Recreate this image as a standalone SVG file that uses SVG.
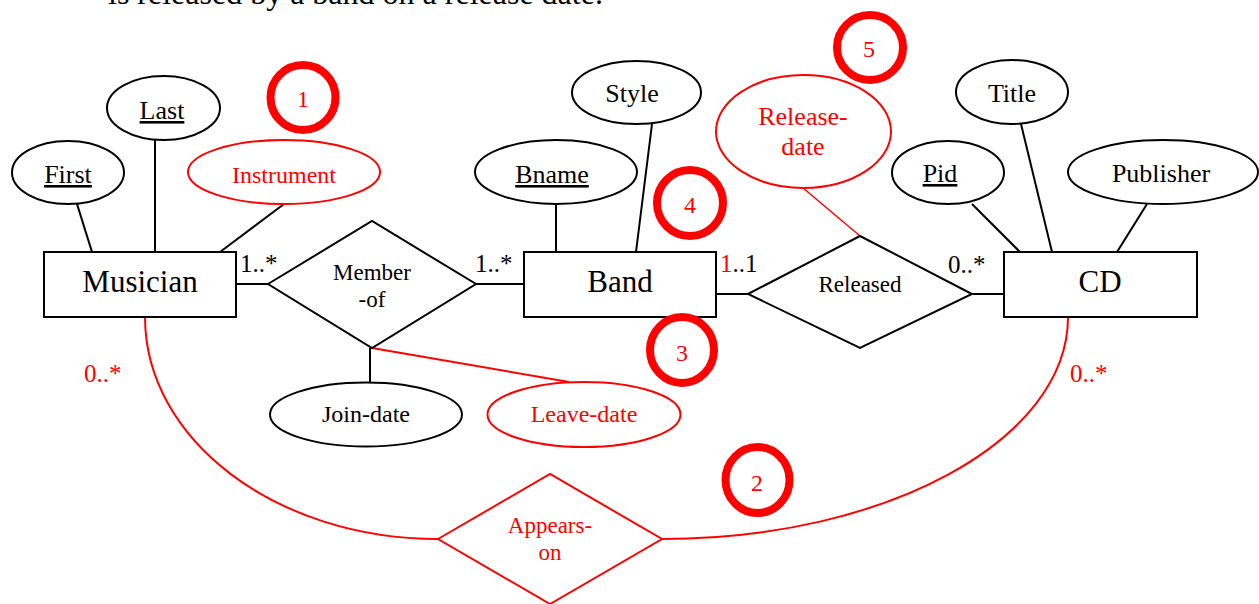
<svg xmlns="http://www.w3.org/2000/svg" width="1259" height="604" viewBox="0 0 1259 604">
<style>
text{font-family:"Liberation Serif","Times New Roman",serif;text-anchor:middle}
.k{fill:none;stroke:#000;stroke-width:2}
.r{fill:none;stroke:#f00;stroke-width:2}
.ent{font-size:31px;fill:#000}
.att{font-size:26px;fill:#000}
.rel{font-size:23px;fill:#000}
.card{font-size:25px;text-anchor:start}
.red{fill:#f00}
.blk{fill:#000}
.badge{fill:none;stroke:#f00;stroke-width:8}
.bnum{font-size:24px;fill:#f00}
.u{text-decoration:underline}
</style>
<rect width="1259" height="604" fill="#fff"/>
<text x="108" y="4" style="font-size:32px;text-anchor:start" fill="#000">is released by a band on a release date.</text>

<g id="connectors">
<line class="k" x1="77" y1="204" x2="92" y2="252"/>
<line class="k" x1="155" y1="140" x2="155" y2="252"/>
<line class="k" x1="284" y1="204" x2="220" y2="252"/>
<line class="k" x1="236" y1="284" x2="268" y2="284"/>
<line class="k" x1="476" y1="284" x2="524" y2="284"/>
<line class="k" x1="556" y1="204" x2="556" y2="252"/>
<line class="k" x1="652" y1="124" x2="636" y2="252"/>
<line class="k" x1="716" y1="294" x2="748" y2="294"/>
<line class="k" x1="972" y1="294" x2="1004" y2="294"/>
<line class="k" x1="972" y1="204" x2="1020" y2="252"/>
<line class="k" x1="1021" y1="124" x2="1052" y2="252"/>
<line class="k" x1="1147" y1="204" x2="1117" y2="252"/>
<line class="k" x1="370" y1="348" x2="370" y2="382"/>
<line class="r" x1="372" y1="348" x2="569" y2="382"/>
<line class="r" x1="803" y1="188" x2="860" y2="236" style="stroke-width:1.5"/>
<path class="r" d="M145,317 C145,440 276,539 438,539"/>
<path class="r" d="M1068,317 C1068,440 886,539 662,539"/>
<text class="card blk" x="240" y="272">1..*</text>
<text class="card blk" x="475" y="272">1..*</text>
<text class="card" x="720" y="272"><tspan class="red">1</tspan><tspan class="blk">..1</tspan></text>
<text class="card blk" x="948" y="273">0..*</text>
<text class="card red" x="84" y="382">0..*</text>
<text class="card red" x="1070" y="382">0..*</text>
</g>

<g id="musician">
<rect class="k" x="44" y="252" width="192" height="65"/>
<text class="ent" x="140" y="292">Musician</text>
</g>
<g id="first">
<ellipse class="k" cx="68" cy="172.5" rx="56" ry="31.5"/>
<text class="att u" x="68" y="183">First</text>
</g>
<g id="last">
<ellipse class="k" cx="163.5" cy="108" rx="56.5" ry="32"/>
<text class="att u" x="162" y="119">Last</text>
</g>
<g id="instrument">
<ellipse class="r" cx="284" cy="172" rx="96" ry="32"/>
<text class="red" x="284" y="183" style="font-size:24px">Instrument</text>
</g>
<g id="member-of">
<polygon class="k" points="268,284 372,221 476,284 372,348"/>
<text class="rel" x="372" y="280">Member</text>
<text class="rel" x="372" y="307">-of</text>
</g>
<g id="join-date">
<ellipse class="k" cx="366" cy="414.5" rx="96" ry="32"/>
<text class="blk" x="366" y="422" style="font-size:24px">Join-date</text>
</g>
<g id="leave-date">
<ellipse class="r" cx="584" cy="414.5" rx="96.5" ry="32.5"/>
<text class="red" x="584" y="422" style="font-size:24px">Leave-date</text>
</g>
<g id="band">
<rect class="k" x="524" y="252" width="192" height="65"/>
<text class="ent" x="620" y="292">Band</text>
</g>
<g id="bname">
<ellipse class="k" cx="556" cy="172" rx="81" ry="32"/>
<text class="att u" x="552" y="183">Bname</text>
</g>
<g id="style">
<ellipse class="k" cx="636.5" cy="92.5" rx="64.5" ry="31.5"/>
<text class="att" x="632" y="102">Style</text>
</g>
<g id="released">
<polygon class="k" points="748,294 860,236 972,294 860,348"/>
<text class="rel" x="860" y="292">Released</text>
</g>
<g id="release-date">
<ellipse class="r" cx="803.5" cy="131.5" rx="87.5" ry="56.5"/>
<text class="red" x="803" y="125" style="font-size:26px">Release-</text>
<text class="red" x="803" y="155" style="font-size:26px">date</text>
</g>
<g id="cd">
<rect class="k" x="1004" y="252" width="193" height="65"/>
<text class="ent" x="1100" y="292">CD</text>
</g>
<g id="pid">
<ellipse class="k" cx="948" cy="172.5" rx="56" ry="31.5"/>
<text class="att u" x="940" y="182">Pid</text>
</g>
<g id="title">
<ellipse class="k" cx="1012" cy="92" rx="56" ry="32"/>
<text class="att" x="1012" y="102">Title</text>
</g>
<g id="publisher">
<ellipse class="k" cx="1163" cy="172" rx="95" ry="32"/>
<text class="att" x="1161" y="182">Publisher</text>
</g>
<g id="appears-on">
<polygon class="r" points="438,539 550,474 662,539 550,604"/>
<text class="red" x="550" y="533" style="font-size:23px">Appears-</text>
<text class="red" x="550" y="560" style="font-size:23px">on</text>
</g>

<g id="badge1"><ellipse class="badge" cx="303" cy="97.5" rx="32.5" ry="32.5"/><text class="bnum" x="303" y="107">1</text></g>
<g id="badge2"><ellipse class="badge" cx="757.5" cy="480" rx="32" ry="33"/><text class="bnum" x="757" y="491">2</text></g>
<g id="badge3"><ellipse class="badge" cx="682" cy="350" rx="32" ry="33"/><text class="bnum" x="682" y="361">3</text></g>
<g id="badge4"><ellipse class="badge" cx="690" cy="203" rx="33" ry="33"/><text class="bnum" x="690" y="213">4</text></g>
<g id="badge5"><ellipse class="badge" cx="870" cy="47.5" rx="33" ry="32.5"/><text class="bnum" x="869" y="57">5</text></g>
</svg>
